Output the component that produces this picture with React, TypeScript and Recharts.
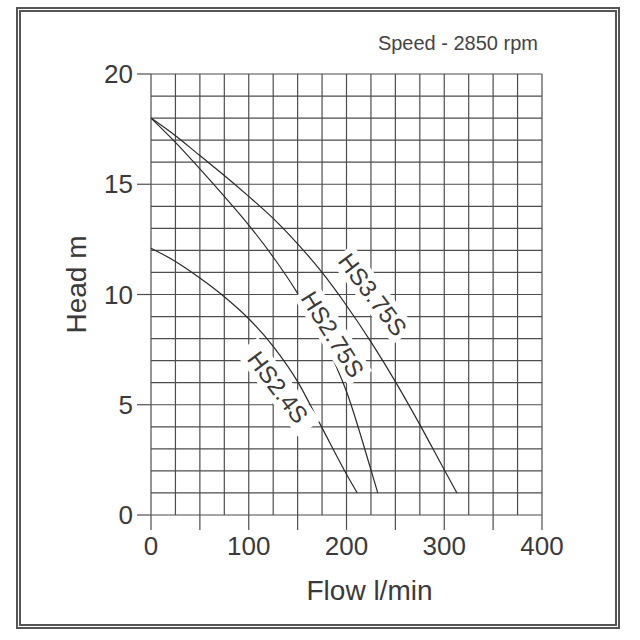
import {
  LineChart,
  Line,
  XAxis,
  YAxis,
  ReferenceLine,
  ReferenceDot,
} from "recharts";

// flow (l/min) -> head (m)
const hs375sFlow = [0, 25, 50, 75, 100, 125, 150, 175, 200, 225, 250, 275, 300, 313];
const hs375sHead = [18, 17.2, 16.3, 15.4, 14.45, 13.45, 12.3, 11.0, 9.5, 7.85, 6.05, 4.1, 2.05, 1.0];

const hs275sFlow = [0, 25, 50, 75, 100, 125, 150, 175, 200, 225, 232];
const hs275sHead = [18, 16.9, 15.7, 14.45, 13.15, 11.7, 10.05, 8.1, 5.6, 2.05, 1.0];

const hs24sFlow = [0, 25, 50, 75, 100, 125, 150, 175, 200, 211];
const hs24sHead = [12.1, 11.5, 10.75, 9.9, 8.9, 7.65, 6.05, 3.95, 1.85, 1.0];

const xTicks = [0, 50, 100, 150, 200, 250, 300, 350, 400];
const yTicks = [0, 5, 10, 15, 20];
const xGrid = [0, 25, 50, 75, 100, 125, 150, 175, 200, 225, 250, 275, 300, 325, 350, 375, 400];
const yGrid = [0, 1, 2, 3, 4, 5, 6, 7, 8, 9, 10, 11, 12, 13, 14, 15, 16, 17, 18, 19, 20];

const toPoints = (flow: number[], head: number[]) =>
  flow.map((f, i) => ({ flow: f, head: head[i] }));

const series = [
  { name: "HS3.75S", data: toPoints(hs375sFlow, hs375sHead) },
  { name: "HS2.75S", data: toPoints(hs275sFlow, hs275sHead) },
  { name: "HS2.4S", data: toPoints(hs24sFlow, hs24sHead) },
];

// where each curve's name sits, and its slant
const curveLabels = [
  { text: "HS3.75S", flow: 227, head: 10.0, angle: 53 },
  { text: "HS2.75S", flow: 186, head: 8.2, angle: 58 },
  { text: "HS2.4S", flow: 130, head: 5.8, angle: 53 },
];

const FONT = "'Liberation Sans', Arial, Helvetica, sans-serif";
const INK = "#3a3a3a";
const GRID = "#4d4d4d";

const XTick = (props: any) => {
  const { x, y, payload } = props;
  if (payload.value % 100 !== 0) return <g />;
  return (
    <text x={x} y={y} dy="0.71em" textAnchor="middle" fontSize={26} fill={INK} fontFamily={FONT}>
      {payload.value}
    </text>
  );
};

const makeCurveLabel = (text: string, angle: number) => (props: any) => {
  const { cx, cy } = props;
  return (
    <g transform={`translate(${cx},${cy}) rotate(${angle})`}>
      <rect x={-52} y={-14} width={104} height={28} fill="#fff" />
      <text
        x={0}
        y={0}
        dy="0.36em"
        textAnchor="middle"
        fontSize={24}
        fill={INK}
        fontFamily={FONT}
      >
        {text}
      </text>
    </g>
  );
};

export default function App() {
  return (
    <div
      style={{
        position: "absolute",
        left: 0,
        top: 0,
        width: 640,
        height: 640,
        background: "#fff",
        fontFamily: FONT,
      }}
    >
      <div
        style={{
          position: "absolute",
          left: 16,
          top: 7,
          width: 604,
          height: 622,
          boxSizing: "border-box",
          border: "5px double #555",
        }}
      />
      <div
        style={{
          position: "absolute",
          right: 102,
          top: 32,
          fontSize: 20,
          color: "#444",
          whiteSpace: "nowrap",
        }}
      >
        Speed - 2850 rpm
      </div>
      <LineChart
        width={640}
        height={640}
        margin={{ top: 74, right: 98, left: 91, bottom: 65 }}
        style={{ position: "absolute", left: 0, top: 0 }}
      >
        <XAxis
          dataKey="flow"
          type="number"
          domain={[0, 400]}
          ticks={xTicks}
          height={60}
          axisLine={false}
          tickSize={15}
          tickMargin={7}
          tickLine={{ stroke: GRID, strokeWidth: 1.2 }}
          tick={<XTick />}
          allowDuplicatedCategory={false}
          label={{
            value: "Flow l/min",
            content: (p: any) => {
              const vb = p.viewBox;
              return (
                <text
                  x={vb.x + vb.width / 2 + 23}
                  y={vb.y + 85}
                  textAnchor="middle"
                  fontSize={28}
                  fill={INK}
                  fontFamily={FONT}
                >
                  Flow l/min
                </text>
              );
            },
          }}
        />
        <YAxis
          dataKey="head"
          type="number"
          domain={[0, 20]}
          ticks={yTicks}
          width={60}
          axisLine={false}
          tickSize={14}
          tickMargin={4}
          tickLine={{ stroke: GRID, strokeWidth: 1.2 }}
          tick={{ fontSize: 26, fill: INK, fontFamily: FONT }}
          label={{
            value: "Head m",
            content: (p: any) => {
              const vb = p.viewBox;
              const cy = vb.y + vb.height / 2 - 10;
              return (
                <text
                  x={86}
                  y={cy}
                  transform={`rotate(-90, 86, ${cy})`}
                  textAnchor="middle"
                  fontSize={28}
                  fill={INK}
                  fontFamily={FONT}
                >
                  Head m
                </text>
              );
            },
          }}
        />
        {xGrid.map((v) => (
          <ReferenceLine key={`gx-${v}`} x={v} stroke={GRID} strokeWidth={1.2} />
        ))}
        {yGrid.map((v) => (
          <ReferenceLine key={`gy-${v}`} y={v} stroke={GRID} strokeWidth={1.2} />
        ))}
        {series.map((s) => (
          <Line
            key={s.name}
            data={s.data}
            dataKey="head"
            type="monotone"
            stroke="#2a2a2a"
            strokeWidth={1.2}
            dot={false}
            activeDot={false}
            isAnimationActive={false}
          />
        ))}
        {curveLabels.map((l) => (
          <ReferenceDot
            key={l.text}
            x={l.flow}
            y={l.head}
            r={0}
            shape={makeCurveLabel(l.text, l.angle)}
          />
        ))}
      </LineChart>
    </div>
  );
}
